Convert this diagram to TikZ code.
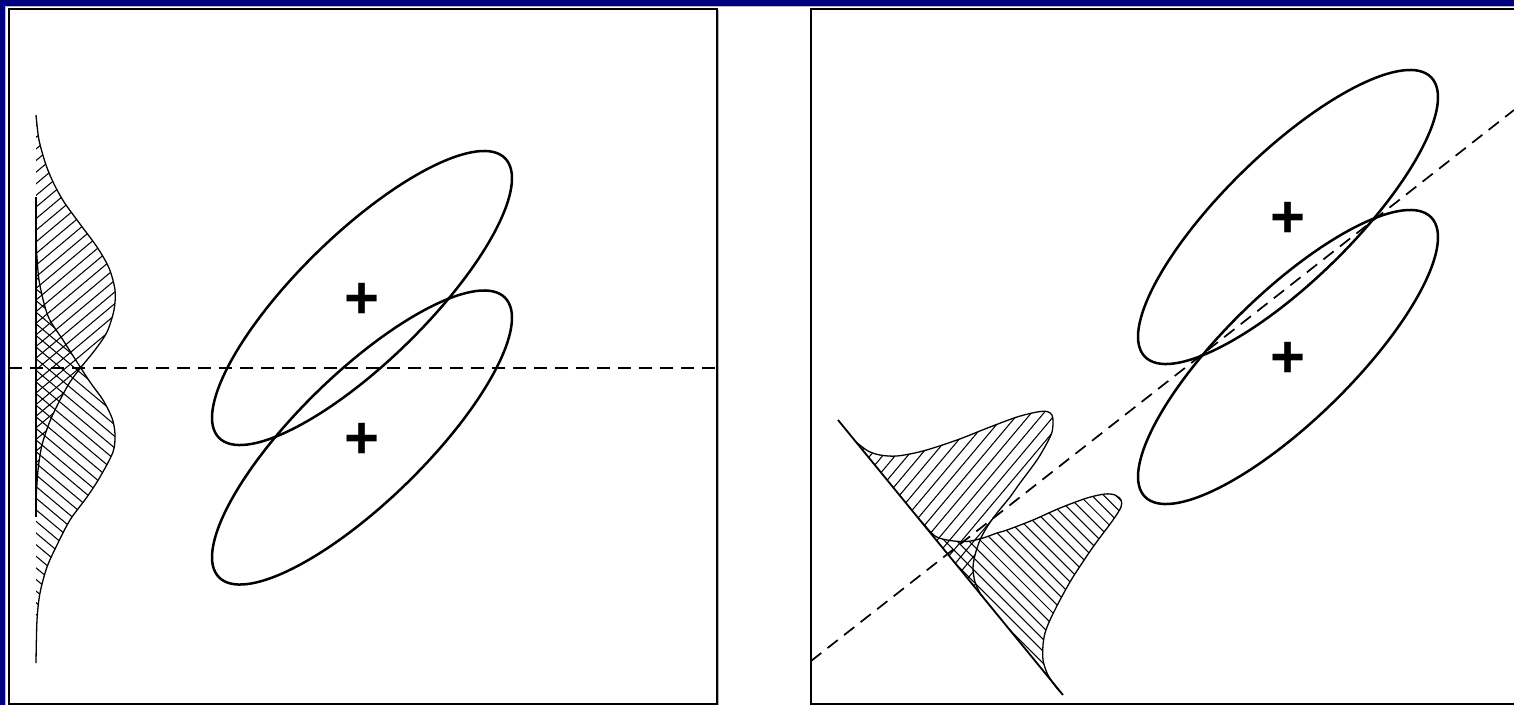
\documentclass[tikz,border=0pt]{standalone}
\usepackage{fontspec}
\setmainfont{Liberation Sans}
\usetikzlibrary{shapes.geometric}
\definecolor{navybg}{RGB}{0,0,128}
\newcommand\myhatch[3]{%
  \begin{scope}[shift={#3}, rotate=#1]
    \foreach \i in {-45,...,45} \draw[hatchline] (-450,\i*#2) -- (450,\i*#2);
  \end{scope}}
\begin{document}
\begin{tikzpicture}[x=1pt,y=-1pt,
  ellipsebox/.style={draw, ellipse, line width=2.5pt, minimum width=400pt, minimum height=128pt, inner sep=0pt},
  plus/.style={font=\fontsize{60}{62}\selectfont\bfseries, inner sep=0pt},
  dashline/.style={dashed, dash pattern=on 13pt off 8pt, line width=1.7pt},
  hatchline/.style={line width=1.05pt},
  outline/.style={line width=1.3pt},
  baseline/.style={line width=1.8pt}]
\useasboundingbox (0,0) rectangle (1514,705);
\fill[navybg] (0,0) rectangle (1514,705);
\fill[white] (5,6) rectangle (1514,705);
\draw[gray!55, line width=1.2pt] (5.6,705) -- (5.6,6.6) -- (1514,6.6);
\draw[line width=1.3pt] (9,9) rectangle (717,704);
\draw[gray!60, line width=1pt] (718.8,10) -- (718.8,705);
\draw[line width=1.3pt] (1514,9) -- (811,9) -- (811,704) -- (1514,704);

% ---------------- left panel ----------------
% upper distribution (/ hatching)
\begin{scope}
  \clip plot[smooth] coordinates {(36,115) (39,140) (46,165) (54,184) (64,202) (80,224) (97,247) (109,268) (115,290) (114,310) (107,332) (95,350) (82,366) (70,382) (60,400) (50,421) (42,445) (38,470) (36,500)} -- cycle;
  \myhatch{40}{8.9}{(36,300)}
\end{scope}
\draw[outline] plot[smooth] coordinates {(36,115) (39,140) (46,165) (54,184) (64,202) (80,224) (97,247) (109,268) (115,290) (114,310) (107,332) (95,350) (82,366) (70,382) (60,400) (50,421) (42,445) (38,470) (36,500)};
% lower distribution (\ hatching)
\begin{scope}
  \clip plot[smooth] coordinates {(36,240) (39,280) (48,316) (63,340) (77,362) (90,382) (103,400) (112,418) (115,434) (113,452) (100,477) (87,497) (70,520) (57,545) (47,567) (40,593) (37,620) (36,663)} -- cycle;
  \myhatch{-40}{8.9}{(36,440)}
\end{scope}
\draw[outline] plot[smooth] coordinates {(36,240) (39,280) (48,316) (63,340) (77,362) (90,382) (103,400) (112,418) (115,434) (113,452) (100,477) (87,497) (70,520) (57,545) (47,567) (40,593) (37,620) (36,663)};
\coordinate (axT) at (36,197);
\coordinate (axB) at (36,517);
\draw[baseline] (axT) -- (axB);

\node[ellipsebox, rotate=44.3] (eL1) at (362,298) {};
\node[ellipsebox, rotate=44.3] (eL2) at (362,437.5) {};
\node[plus] (pL1) at (362,301) {+};
\node[plus] (pL2) at (362,440.5) {+};

\coordinate (dLa) at (9,368);
\coordinate (dLb) at (717,368);
\draw[dashline] (dLa) -- (dLb);

% ---------------- right panel ----------------
\begin{scope}
  \clip plot[smooth] coordinates {(856,442) (868,451) (880,455) (897,456) (923,451) (957,440) (990,427) (1017,417) (1037,412) (1047,411.5) (1052,415) (1053,422) (1052,432) (1047,443) (1037,460) (1020,483) (1010,497) (997,513) (987,527) (980,540) (975,555) (973,568) (975,582) (981,595)} -- cycle;
  \myhatch{50}{9.6}{(950,480)}
\end{scope}
\draw[outline] plot[smooth] coordinates {(856,442) (868,451) (880,455) (897,456) (923,451) (957,440) (990,427) (1017,417) (1037,412) (1047,411.5) (1052,415) (1053,422) (1052,432) (1047,443) (1037,460) (1020,483) (1010,497) (997,513) (987,527) (980,540) (975,555) (973,568) (975,582) (981,595)};
\begin{scope}
  \clip plot[smooth] coordinates {(921,521) (935,536) (950,540.5) (967,541.5) (983,538) (997,533) (1007,530) (1033,520) (1060,508) (1087,498) (1105,494) (1115,495) (1121,500) (1121,507) (1113,520) (1093,547) (1073,577) (1060,600) (1050,620) (1045,633) (1043,645) (1043,660) (1047,673) (1053,683) (1060,692)} -- cycle;
  \myhatch{-45}{8.5}{(1020,580)}
\end{scope}
\draw[outline] plot[smooth] coordinates {(921,521) (935,536) (950,540.5) (967,541.5) (983,538) (997,533) (1007,530) (1033,520) (1060,508) (1087,498) (1105,494) (1115,495) (1121,500) (1121,507) (1113,520) (1093,547) (1073,577) (1060,600) (1050,620) (1045,633) (1043,645) (1043,660) (1047,673) (1053,683) (1060,692)};
\coordinate (bA) at (838,420);
\coordinate (bB) at (1063,695);
\draw[baseline] (bA) -- (bB);

\node[ellipsebox, rotate=44.3] (eR1) at (1288,217) {};
\node[ellipsebox, rotate=44.3] (eR2) at (1288,357) {};
\node[plus] (pR1) at (1288,220) {+};
\node[plus] (pR2) at (1288,360) {+};

\coordinate (dRa) at (811,661);
\coordinate (dRb) at (1514,110);
\draw[dashline] (dRa) -- (dRb);
\end{tikzpicture}
\end{document}
